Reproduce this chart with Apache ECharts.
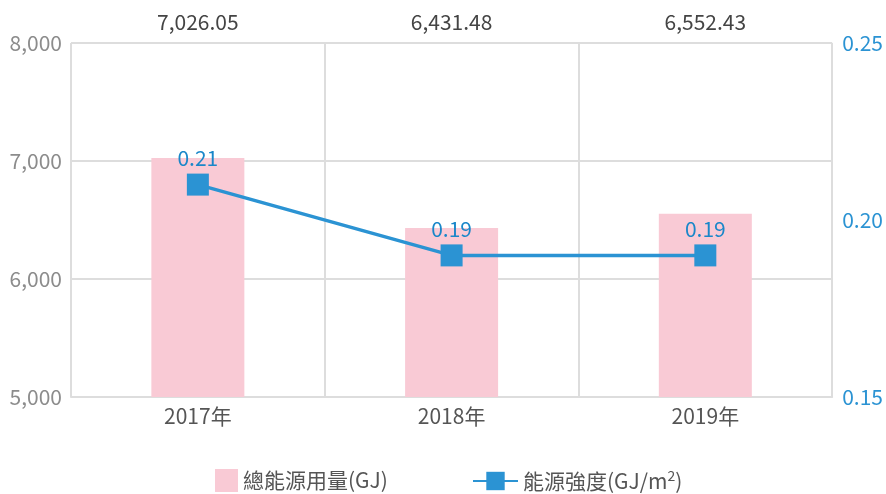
<!DOCTYPE html>
<html>
<head>
<meta charset="utf-8">
<script src="https://cdn.jsdelivr.net/npm/echarts@6/dist/echarts.min.js"></script>
<style>
  html, body { margin: 0; padding: 0; background: #fff; }
  #chart { width: 886px; height: 494px; }
</style>
</head>
<body>
<div id="chart"></div>
<script>
// 資料
const years = ['2017年', '2018年', '2019年']
const totalEnergy = [7026.05, 6431.48, 6552.43]
const intensity = [0.21, 0.19, 0.19]
const leftTicks = [5000, 8000, 1000]      // min, max, interval
const rightTicks = [0.15, 0.25, 0.05]

const FONT = '"Noto Sans CJK TC", "Noto Sans", sans-serif'
const fmtTotal = v => v.toLocaleString('en-US', { minimumFractionDigits: 2, maximumFractionDigits: 2 })

const chart = echarts.init(document.getElementById('chart'))

const option = {
  animation: false,
  textStyle: { fontFamily: FONT },
  grid: { left: 71, right: 53, top: 43, bottom: 97 },
  legend: [
    {
      data: ['總能源用量(GJ)'],
      left: 210, top: 464,
      itemWidth: 23, itemHeight: 23,
      icon: 'rect',
      itemGap: 10,
      textStyle: { fontSize: 21, color: '#555', fontFamily: FONT }
    },
    {
      data: ['能源強度(GJ/m2)'],
      left: 467, top: 464,
      itemWidth: 45, itemHeight: 23,
      textStyle: {
        fontSize: 21, color: '#555', fontFamily: FONT,
        rich: { sup: { fontSize: 14, color: '#555', verticalAlign: 'top', padding: [0, 0, 10, 0], fontFamily: FONT } }
      },
      formatter: name => name.replace('m2', 'm{sup|2}')
    }
  ],
  xAxis: [
    {
      type: 'category',
      data: years,
      axisLine: { lineStyle: { color: '#ddd', width: 2 } },
      axisTick: { show: false },
      axisLabel: { color: '#555', fontSize: 21, margin: 9, fontFamily: FONT },
      splitLine: { show: true, lineStyle: { color: '#ddd', width: 2 } }
    },
    {
      type: 'category',
      data: years,
      position: 'top',
      axisLine: { show: false },
      axisTick: { show: false },
      axisLabel: {
        color: '#444', fontSize: 21, margin: 10, fontFamily: FONT,
        formatter: (v, i) => fmtTotal(totalEnergy[i])
      }
    }
  ],
  yAxis: [
    {
      type: 'value',
      min: leftTicks[0], max: leftTicks[1], interval: leftTicks[2],
      axisLine: { show: false },
      axisTick: { show: false },
      axisLabel: { color: '#8c8c8c', fontSize: 21, margin: 9, fontFamily: FONT,
        formatter: v => v.toLocaleString('en-US') },
      splitLine: { lineStyle: { color: '#ddd', width: 2 } }
    },
    {
      type: 'value',
      min: rightTicks[0], max: rightTicks[1], interval: rightTicks[2],
      axisLine: { show: false },
      axisTick: { show: false },
      axisLabel: { color: '#2b93d3', fontSize: 21, margin: 10, fontFamily: FONT,
        formatter: v => v.toFixed(2) },
      splitLine: { show: false }
    }
  ],
  series: [
    {
      name: '總能源用量(GJ)',
      type: 'bar',
      data: totalEnergy,
      barWidth: 93,
      itemStyle: { color: '#f9cad5' }
    },
    {
      name: '能源強度(GJ/m2)',
      type: 'line',
      yAxisIndex: 1,
      data: intensity,
      symbol: 'rect',
      symbolSize: 22,
      lineStyle: { color: '#2b93d3', width: 3.5 },
      itemStyle: { color: '#2b93d3' },
      label: {
        show: true, position: 'top', distance: 5,
        color: '#1a87c9', fontSize: 21, fontFamily: FONT,
        formatter: p => p.value.toFixed(2)
      }
    }
  ]
}

chart.setOption(option)
</script>
</body>
</html>
